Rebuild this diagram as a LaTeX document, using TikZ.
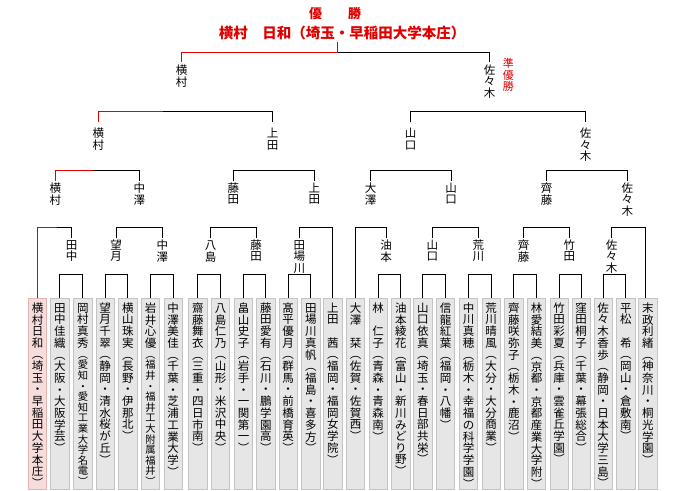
\documentclass[tikz,border=0pt]{standalone}
\usepackage{fontspec}
\setmainfont{Noto Sans CJK JP}
\definecolor{wred}{HTML}{E00000}
\definecolor{boxfill}{HTML}{E6E6E6}
\definecolor{boxline}{HTML}{C4C4C4}
\definecolor{winfill}{HTML}{F6DCDC}
\definecolor{winline}{HTML}{E2B4B4}
\makeatletter
\def\vt@h{9.5pt}\def\vt@d{2.1pt}
\newcommand\vt[1]{\vbox{\offinterlineskip\@tfor\vt@c:=#1\do{\hbox to 12pt{\hss\vrule width 0pt height \vt@h\space depth \vt@d\vt@c\hss}}}}
\newcommand\vtx[2]{\vbox{\offinterlineskip\vt{#1}{\fontsize{10.3}{11}\selectfont\def\vt@h{8.7pt}\def\vt@d{1.9pt}\vt{#2}}}}
\makeatother
\newcommand\pl[3]{\node[pbox] (b#1) at (#2,298) {}; \node[ptxt] (t#1) at (#2,302.5) {\vt{#3}};}
\newcommand\plx[4]{\node[pbox] (b#1) at (#2,298) {}; \node[ptxt] (t#1) at (#2,302.5) {\vtx{#3}{#4}};}
\newcommand\lb[4]{\node[lab] (#1) at (#2,#3) {\vt{#4}};}
\newcommand\brk[4]{\draw[ln] (#1.north |- 0,#4) |- (#2.north |- 0,#3) -- (#2.north |- 0,#4);}
\newcommand\pr[2]{\draw[ln] (b#1.north) |- (b#2.north |- 0,274) -- (b#2.north);}
\begin{document}
\begin{tikzpicture}[x=1pt,y=-1pt,
  ln/.style={line width=1pt, black},
  rl/.style={line width=1pt, wred},
  pbox/.style={draw=boxline, fill=boxfill, line width=0.9pt, minimum width=18.3pt, minimum height=191pt, anchor=north, inner sep=0pt},
  wbox/.style={pbox, draw=winline, fill=winfill},
  ptxt/.style={anchor=north, inner sep=0pt, font=\fontsize{11.5}{12}\selectfont},
  lab/.style={anchor=north, inner sep=0pt, font=\fontsize{11.5}{12}\selectfont},
]
\useasboundingbox (0,0) rectangle (680,490);
\fill[white] (0,0) rectangle (680,490);
% title
\node[inner sep=0pt, text=wred, font=\fontsize{13}{13}\selectfont\bfseries] (yusho) at (335,14) {優　　勝};
\node[inner sep=0pt, text=wred, font=\fontsize{14.5}{15}\selectfont\bfseries] (champ) at (342,33) {横村　日和（埼玉・早稲田大学本庄）};
\node[lab, text=wred, font=\fontsize{11}{12}\selectfont] (jun) at (508.3,58) {\vt{準優勝}};
% players
\node[wbox] (b0) at (37.5,298) {}; \node[ptxt] (t0) at (37.5,302.5) {\vt{横村日和︵埼玉・早稲田大学本庄︶}};
\pl{1}{59.9}{田中佳織︵大阪・大阪学芸︶}
\plx{2}{82.9}{岡村真秀}{︵愛知・愛知工業大学名電︶}
\pl{3}{105.2}{望月千翠︵静岡・清水桜が丘︶}
\pl{4}{127.9}{横山珠実︵長野・伊那北︶}
\plx{5}{150.5}{岩井心優}{︵福井・福井工大附属福井︶}
\pl{6}{173.2}{中澤美佳︵千葉・芝浦工業大学︶}
\pl{7}{197.9}{齋藤舞衣︵三重・四日市南︶}
\pl{8}{220.5}{八島仁乃︵山形・米沢中央︶}
\pl{9}{243.5}{畠山史子︵岩手・一関第一︶}
\pl{10}{265.9}{藤田愛有︵石川・鵬学園高︶}
\pl{11}{288.2}{髙平優月︵群馬・前橋育英︶}
\pl{12}{310.9}{田場川真帆︵福島・喜多方︶}
\pl{13}{332.9}{上田　茜︵福岡・福岡女学院︶}
\pl{14}{355.5}{大澤　栞︵佐賀・佐賀西︶}
\pl{15}{378.2}{林　仁子︵青森・青森南︶}
\pl{16}{400.9}{油本綾花︵富山・新川みどり野︶}
\pl{17}{422.9}{山口依真︵埼玉・春日部共栄︶}
\pl{18}{445.5}{信龍紅葉︵福岡・八幡︶}
\pl{19}{468.5}{中川真穂︵栃木・幸福の科学学園︶}
\pl{20}{491.2}{荒川晴風︵大分・大分商業︶}
\pl{21}{513.9}{齊藤咲弥子︵栃木・鹿沼︶}
\pl{22}{536.5}{林愛結美︵京都・京都産業大学附︶}
\pl{23}{559.2}{竹田彩夏︵兵庫・雲雀丘学園︶}
\pl{24}{581.2}{窪田桐子︵千葉・幕張総合︶}
\pl{25}{603.2}{佐々木香歩︵静岡・日本大学三島︶}
\pl{26}{625.9}{平松　希︵岡山・倉敷南︶}
\pl{27}{647.9}{末政利緒︵神奈川・桐光学園︶}
\coordinate (b27t) at ([xshift=-2.2pt]b27.north);
% labels
\lb{tpa}{181.7}{64.5}{横村}
\lb{tpb}{489.5}{64.5}{佐々木}
\lb{r3a}{98.3}{127.8}{横村}
\lb{r3b}{272.5}{127.8}{上田}
\lb{r3c}{410.5}{127.8}{山口}
\lb{r3d}{585.5}{127.8}{佐々木}
\lb{r2a}{55.3}{182.5}{横村}
\lb{r2b}{139.3}{182.5}{中澤}
\lb{r2c}{233.3}{182.5}{藤田}
\lb{r2d}{314.3}{182.5}{上田}
\lb{r2e}{370.7}{182.5}{大澤}
\lb{r2f}{451}{182.5}{山口}
\lb{r2g}{546.7}{182.5}{齊藤}
\lb{r2h}{627.3}{182.5}{佐々木}
\lb{r1a}{71.7}{239.5}{田中}
\lb{r1b}{116}{239.5}{望月}
\lb{r1c}{162.3}{239.5}{中澤}
\lb{r1d}{210.7}{239.5}{八島}
\lb{r1e}{256}{239.5}{藤田}
\lb{r1f}{299.3}{239.5}{田場川}
\lb{r1g}{386}{239.5}{油本}
\lb{r1h}{432.3}{239.5}{山口}
\lb{r1i}{478.3}{239.5}{荒川}
\lb{r1j}{523.7}{239.5}{齊藤}
\lb{r1k}{569.3}{239.5}{竹田}
\lb{r1l}{611.7}{239.5}{佐々木}
% round 1
\pr{1}{2}\pr{3}{4}\pr{5}{6}\pr{7}{8}\pr{9}{10}\pr{11}{12}
\pr{15}{16}\pr{17}{18}\pr{19}{20}\pr{21}{22}\pr{23}{24}\pr{25}{26}
% round 2
\draw[ln] (b0.north) |- (r1a.north |- 0,227.3) -- (r1a.north |- 0,238.3);
\brk{r1b}{r1c}{227.3}{238.3}
\brk{r1d}{r1e}{227.3}{238.3}
\draw[ln] (r1f.north |- 0,238.3) |- (b13.north |- 0,227.3) -- (b13.north);
\draw[ln] (b14.north) |- (r1g.north |- 0,227.3) -- (r1g.north |- 0,238.3);
\brk{r1h}{r1i}{227.3}{238.3}
\brk{r1j}{r1k}{227.3}{238.3}
\draw[ln] (r1l.north |- 0,238.3) |- (b27t |- 0,227.3) -- (b27t);
% round 3
\brk{r2a}{r2b}{170}{180.5}
\brk{r2c}{r2d}{170}{180.5}
\brk{r2e}{r2f}{170}{180.5}
\brk{r2g}{r2h}{170}{180.5}
% round 4
\brk{r3a}{r3b}{111}{122.3}
\brk{r3c}{r3d}{111}{122.3}
% final
\brk{tpa}{tpb}{52.3}{61.7}
% winner path
\coordinate (rr2) at (56.7,227.3);
\coordinate (rr3) at (92.7,170);
\coordinate (rr4) at (163.3,111);
\coordinate (rr5) at (337,52.3);
\coordinate (rr6) at (337,42);
\draw[rl] (b0.north) |- (rr2);
\draw[rl] (r2a.north |- 0,180.5) |- (rr3);
\draw[rl] (r3a.north |- 0,122.3) |- (rr4);
\draw[rl] (tpa.north |- 0,61.7) |- (rr5) -- (rr6);
\end{tikzpicture}
\end{document}
